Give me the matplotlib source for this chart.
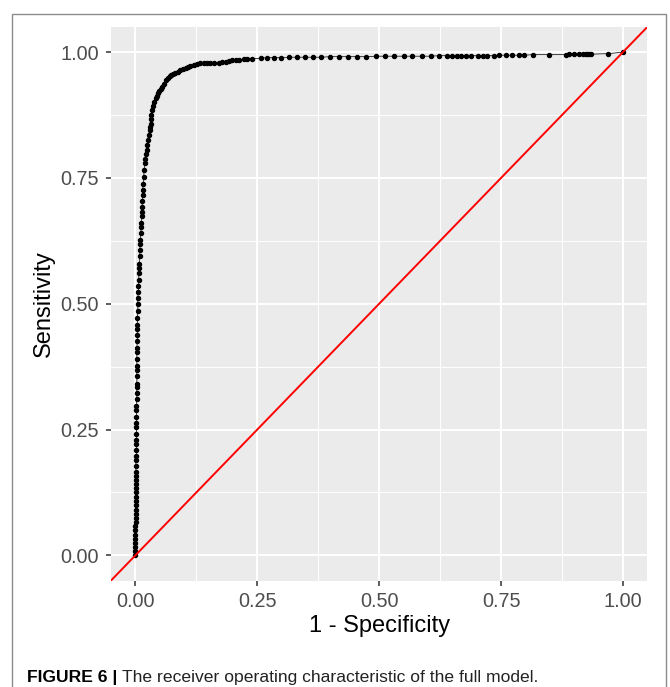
import matplotlib
matplotlib.use("Agg")
import matplotlib.pyplot as plt
from matplotlib.patches import Rectangle

plt.rcParams['font.family'] = ['Liberation Sans', 'DejaVu Sans']

# ROC points (1 - specificity, sensitivity)
fpr = [0.000, 0.000, 0.000, 0.000, 0.000, 0.000, 0.000, 0.000, 0.001, 0.001,
       0.001, 0.001, 0.001, 0.001, 0.001, 0.001, 0.001, 0.001, 0.001, 0.001,
       0.001, 0.001, 0.001, 0.002, 0.002, 0.002, 0.002, 0.002, 0.002, 0.002,
       0.002, 0.002, 0.002, 0.003, 0.003, 0.003, 0.003, 0.003, 0.003, 0.003,
       0.003, 0.003, 0.003, 0.004, 0.004, 0.004, 0.004, 0.004, 0.005, 0.005,
       0.005, 0.006, 0.006, 0.007, 0.007, 0.008, 0.008, 0.009, 0.009, 0.010,
       0.010, 0.011, 0.012, 0.012, 0.013, 0.013, 0.014, 0.014, 0.015, 0.015,
       0.016, 0.017, 0.018, 0.019, 0.020, 0.021, 0.023, 0.024, 0.025, 0.027,
       0.029, 0.030, 0.031, 0.032, 0.033, 0.034, 0.036, 0.039, 0.042, 0.044,
       0.046, 0.049, 0.052, 0.055, 0.059, 0.063, 0.066, 0.070, 0.074, 0.078,
       0.082, 0.087, 0.092, 0.097, 0.103, 0.108, 0.113, 0.120, 0.127, 0.133,
       0.140, 0.147, 0.154, 0.162, 0.171, 0.178, 0.185, 0.192, 0.199, 0.206,
       0.212, 0.222, 0.229, 0.240, 0.257, 0.270, 0.284, 0.298, 0.315, 0.332,
       0.347, 0.365, 0.381, 0.400, 0.417, 0.436, 0.454, 0.472, 0.493, 0.511,
       0.530, 0.551, 0.568, 0.587, 0.606, 0.623, 0.640, 0.650, 0.659, 0.667,
       0.678, 0.688, 0.702, 0.712, 0.722, 0.735, 0.746, 0.760, 0.772, 0.786,
       0.798, 0.815, 0.849, 0.883, 0.890, 0.900, 0.910, 0.919, 0.924, 0.927,
       0.931, 0.934, 0.969, 1.000]
tpr = [0.000, 0.008, 0.016, 0.025, 0.033, 0.041, 0.050, 0.058, 0.066, 0.075,
       0.083, 0.091, 0.100, 0.108, 0.116, 0.125, 0.133, 0.141, 0.150, 0.158,
       0.166, 0.178, 0.189, 0.197, 0.210, 0.221, 0.229, 0.242, 0.256, 0.263,
       0.275, 0.288, 0.297, 0.311, 0.322, 0.334, 0.341, 0.356, 0.368, 0.377,
       0.391, 0.404, 0.412, 0.425, 0.437, 0.449, 0.458, 0.472, 0.485, 0.500,
       0.511, 0.524, 0.536, 0.547, 0.561, 0.572, 0.580, 0.594, 0.607, 0.618,
       0.626, 0.640, 0.652, 0.660, 0.674, 0.683, 0.692, 0.705, 0.716, 0.726,
       0.738, 0.752, 0.765, 0.779, 0.788, 0.797, 0.805, 0.815, 0.825, 0.835,
       0.845, 0.852, 0.858, 0.867, 0.876, 0.885, 0.893, 0.901, 0.908, 0.913,
       0.918, 0.923, 0.927, 0.931, 0.937, 0.944, 0.948, 0.952, 0.954, 0.956,
       0.958, 0.961, 0.964, 0.966, 0.969, 0.971, 0.973, 0.975, 0.976, 0.978,
       0.979, 0.979, 0.979, 0.979, 0.979, 0.980, 0.981, 0.982, 0.984, 0.984,
       0.985, 0.986, 0.987, 0.987, 0.988, 0.989, 0.989, 0.989, 0.990, 0.990,
       0.990, 0.990, 0.990, 0.991, 0.991, 0.991, 0.991, 0.991, 0.992, 0.992,
       0.992, 0.992, 0.992, 0.992, 0.992, 0.993, 0.993, 0.993, 0.993, 0.993,
       0.993, 0.993, 0.993, 0.993, 0.993, 0.993, 0.994, 0.994, 0.994, 0.994,
       0.994, 0.995, 0.995, 0.995, 0.996, 0.996, 0.996, 0.996, 0.996, 0.996,
       0.996, 0.996, 0.997, 1.000]

ticks = [0.0, 0.25, 0.5, 0.75, 1.0]
tick_labels = ["0.00", "0.25", "0.50", "0.75", "1.00"]
minor_ticks = [0.125, 0.375, 0.625, 0.875]

fig = plt.figure(figsize=(6.7, 6.87), dpi=100)
ax = fig.add_axes([0.1657, 0.155, 0.8004, 0.8057])
ax.set_facecolor('#EBEBEB')
for s in ax.spines.values():
    s.set_visible(False)

ax.set_xlim(-0.05, 1.05)
ax.set_ylim(-0.05, 1.05)
ax.set_xticks(ticks)
ax.set_xticklabels(tick_labels)
ax.set_yticks(ticks)
ax.set_yticklabels(tick_labels)
ax.set_xticks(minor_ticks, minor=True)
ax.set_yticks(minor_ticks, minor=True)
ax.grid(which='major', color='white', lw=1.4)
ax.grid(which='minor', color='white', lw=0.7)
ax.set_axisbelow(True)
ax.tick_params(which='major', length=3.5, width=1.1, color='#333333',
               labelsize=14.3, labelcolor='#4D4D4D', pad=5)
ax.tick_params(which='minor', length=0)

ax.plot(fpr, tpr, color='black', lw=0.5, marker='o', markersize=2.9, zorder=3)
ax.axline((0, 0), slope=1, color='red', lw=1.4, zorder=4)

ax.set_xlabel("1 - Specificity", fontsize=17, labelpad=3)
ax.set_ylabel("Sensitivity", fontsize=17, labelpad=4)

# journal frame and caption
fig.patches.append(Rectangle((12 / 670, -0.05), 654 / 670, 1.05 - 14 / 687,
                             transform=fig.transFigure, fill=False,
                             edgecolor='#8C8C8C', lw=1.0))
cap_y = (687 - 682) / 687
t1 = fig.text(27 / 670, cap_y, "FIGURE 6 |", fontsize=12.6, fontweight='bold',
              va='baseline', ha='left')
fig.canvas.draw()
bb = t1.get_window_extent()
fig.text((bb.x1 + 5) / 670, cap_y,
         "The receiver operating characteristic of the full model.",
         fontsize=12.6, va='baseline', ha='left', color='#222222')

fig.savefig("out.png", dpi=100)
